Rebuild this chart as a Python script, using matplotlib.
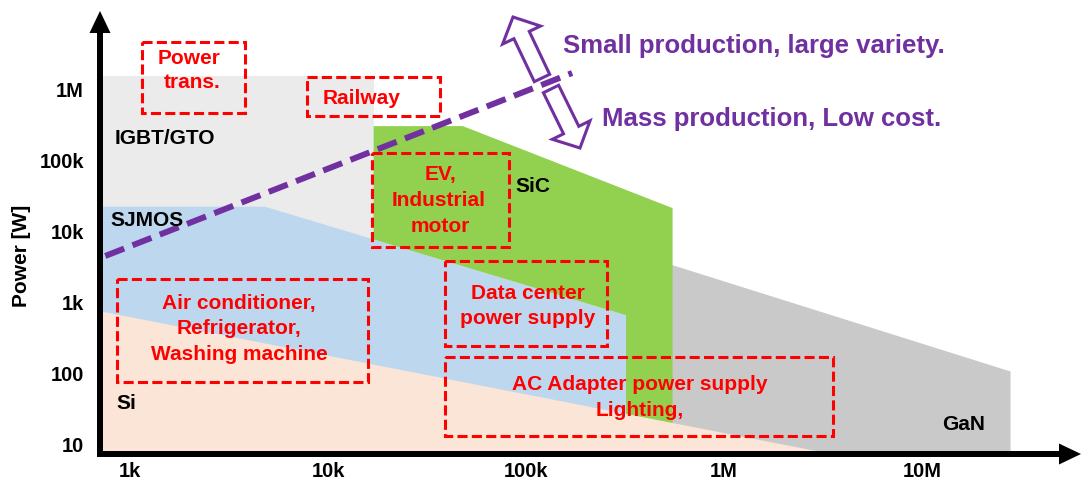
import matplotlib
matplotlib.use("Agg")
import matplotlib.pyplot as plt
from matplotlib.patches import Polygon, Rectangle, FancyArrow
from matplotlib.transforms import Affine2D, blended_transform_factory, offset_copy

W, H = 1081, 481
plt.rcParams['font.family'] = ['Liberation Sans', 'DejaVu Sans']
plt.rcParams['font.weight'] = 'bold'

# ---------------- data ----------------
x_ticks = [1e3, 1e4, 1e5, 1e6, 1e7]
x_labels = ['1k', '10k', '100k', '1M', '10M']
y_ticks = [10, 100, 1e3, 1e4, 1e5, 1e6]
y_labels = ['10', '100', '1k', '10k', '100k', '1M']

igbt_x = [700, 17e3, 17e3, 700]
igbt_y = [1.5e6, 1.5e6, 7, 7]
gan_x = [320e3, 550e3, 28e6, 28e6, 320e3]
gan_y = [5e3, 3.3e3, 105, 7, 7]
sj_x = [700, 4.8e3, 320e3, 320e3, 700]
sj_y = [22e3, 22e3, 650, 7, 7]
sic_x = [17e3, 48e3, 550e3, 550e3, 320e3, 320e3, 17e3]
sic_y = [300e3, 300e3, 21e3, 7, 7, 650, 7.6e3]
si_x = [700, 3.7e6, 700]
si_y = [745, 7, 7]
trend_x = [750, 171e3]
trend_y = [4.45e3, 1.68e6]

# ---------------- styles ----------------
C_IGBT = '#EBEBEB'
C_GAN = '#C9C9C9'
C_SJ = '#BDD7EE'
C_SIC = '#92D050'
C_SI = '#FBE5D6'
PURPLE = '#7030A0'
RED = '#FF0000'

fig = plt.figure(figsize=(W / 100, H / 100), dpi=100)
ax = fig.add_axes([0, 0, 1, 1])
ax.set_xscale('log')
ax.set_yscale('log')
ax.set_xlim(10 ** (3 - 130 / 198), 10 ** (3 + 951 / 198))
ax.set_ylim(10 ** (6 - 391 / 71), 10 ** (6 + 90 / 71))
ax.axis('off')

# pixel (image coords, y down) transform for layout items
PX = Affine2D().scale(1 / W, -1 / H).translate(0, 1) + ax.transAxes


def poly(xs, ys, c, z):
    ax.add_patch(Polygon(list(zip(xs, ys)), closed=True, facecolor=c,
                         edgecolor='none', zorder=z))


poly(igbt_x, igbt_y, C_IGBT, 1)
poly(gan_x, gan_y, C_GAN, 2)
poly(sj_x, sj_y, C_SJ, 3)
poly(sic_x, sic_y, C_SIC, 4)
poly(si_x, si_y, C_SI, 5)

# trend line
ax.plot(trend_x, trend_y, color=PURPLE, lw=4.3, dashes=(3.4, 1.5),
        solid_capstyle='butt', zorder=8)


def fs_px(fs):
    return fs * 100 / 72


def text(s, px, py, fs, color, ha='center', z=10):
    ax.text(px, py + 0.36 * fs_px(fs), s, transform=PX, fontsize=fs,
            color=color, ha=ha, va='baseline', fontweight='bold', zorder=z)


# red dashed boxes (left, top, right, bottom in px)
boxes = [(142, 43, 245, 114), (307, 78, 440, 117), (372, 154, 509, 248),
         (117, 280, 368, 383), (445, 262, 607, 347), (445, 358, 833, 437)]
for l, t, r, b in boxes:
    ax.add_patch(Rectangle((l, t), r - l, b - t, transform=PX, fill=False,
                           edgecolor=RED, lw=2.2, linestyle=(0, (3.3, 1.4)),
                           zorder=7))

red_texts = [("Power", 189, 57), ("trans.", 192, 81), ("Railway", 362, 96),
             ("EV,", 440, 173), ("Industrial", 439, 199), ("motor", 440, 225),
             ("Air conditioner,", 239, 302), ("Refrigerator,", 239, 327),
             ("Washing machine", 239, 353),
             ("Data center", 528, 292), ("power supply", 528, 317),
             ("AC Adapter power supply", 640, 383), ("Lighting,", 640, 409)]
for s, x, y in red_texts:
    text(s, x, y, 15, RED)

black_texts = [("IGBT/GTO", 115, 137), ("SJMOS", 110, 219), ("Si", 116, 402),
               ("SiC", 515, 185), ("GaN", 942, 423)]
for s, x, y in black_texts:
    text(s, x, y, 15, 'black', ha='left')

text("Small production, large variety.", 563, 44, 18.5, PURPLE, ha='left')
text("Mass production, Low cost.", 602, 117, 18.5, PURPLE, ha='left')

# hollow double arrows
for (tx, ty, hx, hy) in [(542, 79, 513, 18), (551, 90, 580, 149)]:
    ax.add_patch(FancyArrow(tx, ty, hx - tx, hy - ty, width=17, head_width=42,
                            head_length=20, length_includes_head=True,
                            facecolor='white', edgecolor=PURPLE, lw=2.2,
                            transform=PX, zorder=9))

# axes arrows
ax.add_patch(FancyArrow(100, 458, 0, 12 - 458, width=6, head_width=21,
                        head_length=22, length_includes_head=True,
                        color='black', lw=0, transform=PX, zorder=11))
ax.add_patch(FancyArrow(97, 455, 1081 - 97, 0, width=6, head_width=21,
                        head_length=22, length_includes_head=True,
                        color='black', lw=0, transform=PX, zorder=11))

# tick labels
tfs = 14.5
xt = offset_copy(blended_transform_factory(ax.transData, ax.transAxes), fig=fig,
                 x=0, y=-0.36 * tfs, units='points')
for v, lab in zip(x_ticks, x_labels):
    ax.text(v, 1 - 470 / H, lab, transform=xt, ha='center', va='baseline',
            fontsize=tfs, fontweight='bold', zorder=12)
yt = offset_copy(blended_transform_factory(ax.transAxes, ax.transData), fig=fig,
                 x=0, y=-0.36 * tfs, units='points')
for v, lab in zip(y_ticks, y_labels):
    ax.text(84 / W, v, lab, transform=yt, ha='right', va='baseline',
            fontsize=tfs, fontweight='bold', zorder=12)

ax.text(22, 256, "Power [W]", transform=PX, rotation=90, ha='center',
        va='center', fontsize=15, fontweight='bold', zorder=12)

fig.savefig('out.png', dpi=100, facecolor='white')
